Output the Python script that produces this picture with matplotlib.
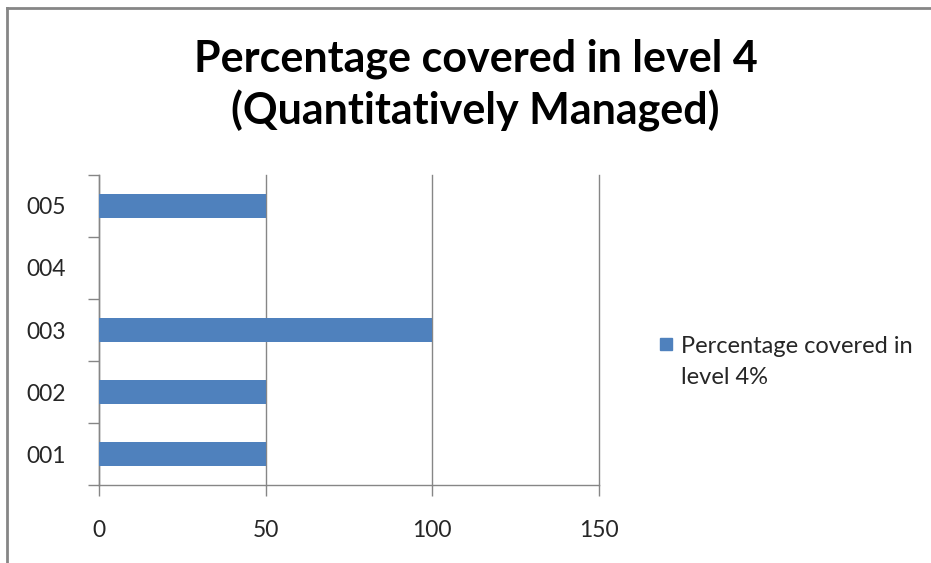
import matplotlib
matplotlib.use('Agg')
import numpy as np
from matplotlib import pyplot as plt
from matplotlib.lines import Line2D
from matplotlib.patches import Rectangle

categories = ['001', '002', '003', '004', '005']
values = [50, 50, 100, 0, 50]
x_ticks = [0, 50, 100, 150]
title = 'Percentage covered in level 4\n(Quantitatively Managed)'
legend_label = 'Percentage covered in\nlevel 4%'

BAR = '#4F81BD'
AXIS = '#868686'
plt.rcParams['font.family'] = ['Lato', 'DejaVu Sans']

fig = plt.figure(figsize=(9.31, 5.63), dpi=100)
ax = fig.add_axes([0.1063, 0.1385, 0.5371, 0.5507])

pos = np.arange(len(categories))
ax.barh(pos, values, height=0.39, color=BAR, zorder=3)

ax.set_xlim(0, 150)
ax.set_ylim(-0.5, len(categories) - 0.5)
ax.set_xticks(x_ticks)
ax.set_xticklabels([str(t) for t in x_ticks], fontsize=16.5, color='#262626')
ax.tick_params(axis='x', length=8, width=1, color=AXIS, pad=17)
ax.xaxis.grid(True, color=AXIS, linewidth=1, zorder=0)
for gl in ax.get_xgridlines():
    gl.set_clip_on(False)

# category boundaries get tick marks, labels sit in between
ax.set_yticks(np.arange(len(categories) + 1) - 0.5)
ax.set_yticklabels([])
ax.set_yticks(pos, minor=True)
ax.set_yticklabels(categories, minor=True, fontsize=16.5, color='#262626')
ax.tick_params(axis='y', which='major', length=8, width=1, color=AXIS)
ax.tick_params(axis='y', which='minor', length=0, pad=24)

for s in ['top', 'right']:
    ax.spines[s].set_visible(False)
for s in ['left', 'bottom']:
    ax.spines[s].set_color(AXIS)
    ax.spines[s].set_linewidth(1)

fig.text(0.511, 1 - 85 / 563, title, ha='center', va='center', fontsize=31,
         fontweight='bold', linespacing=1.3)

# legend drawn by hand to match the two-line label
fig.add_artist(Rectangle((660 / 931, 1 - 350 / 563), 12 / 931, 12 / 563,
                         transform=fig.transFigure, color=BAR))
fig.text(681 / 931, 1 - 362 / 563, legend_label, ha='left', va='center',
         fontsize=17, color='#262626', linespacing=1.6)

# chart frame (cropped screenshot: only top and left visible)
fig.add_artist(Line2D([6.5 / 931, 6.5 / 931], [0, 1 - 8 / 563],
                      transform=fig.transFigure, color=AXIS, linewidth=2))
fig.add_artist(Line2D([6.5 / 931, 1], [1 - 8 / 563, 1 - 8 / 563],
                      transform=fig.transFigure, color=AXIS, linewidth=2))

fig.savefig('out.png', dpi=100)
